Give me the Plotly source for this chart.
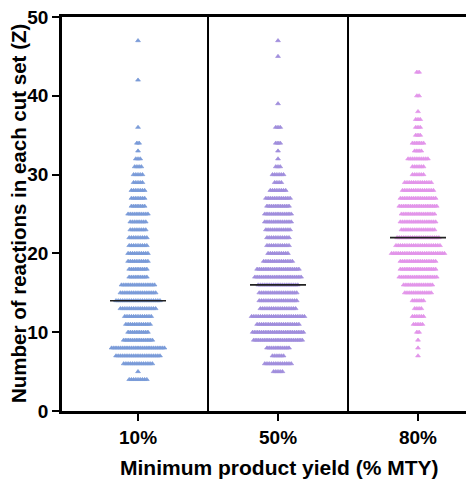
import numpy as np
import plotly.graph_objects as go

# ---- data ----
categories = ["10%", "50%", "80%"]

# value (number of reactions Z) -> count of cut sets
z_10 = [4, 5, 6, 7, 8, 9, 10, 11, 12, 13, 14, 15, 16, 17, 18, 19, 20, 21, 22, 23, 24,
        25, 26, 27, 28, 29, 30, 31, 32, 33, 34, 36, 42, 47]
n_10 = [9, 1, 14, 21, 25, 14, 10, 12, 13, 17, 21, 17, 16, 9, 9, 10, 10, 9, 9, 8, 8,
        10, 7, 7, 7, 5, 5, 4, 3, 1, 2, 1, 1, 1]

z_50 = [5, 6, 7, 8, 9, 10, 11, 12, 13, 14, 15, 16, 17, 18, 19, 20, 21, 22, 23, 24,
        25, 26, 27, 28, 29, 30, 31, 32, 33, 34, 36, 39, 45, 47]
n_50 = [5, 13, 6, 11, 23, 24, 20, 25, 17, 18, 18, 19, 22, 20, 14, 10, 11, 11, 12, 13,
        13, 11, 12, 8, 4, 6, 3, 1, 1, 3, 3, 1, 1, 1]

z_80 = [7, 8, 9, 10, 11, 12, 13, 14, 15, 16, 17, 18, 19, 20, 21, 22, 23, 24, 25, 26,
        27, 28, 29, 30, 31, 32, 33, 34, 35, 36, 37, 38, 40, 43]
n_80 = [1, 1, 1, 2, 5, 6, 4, 6, 13, 14, 18, 17, 17, 25, 21, 20, 16, 17, 16, 18,
        17, 15, 13, 6, 6, 10, 4, 6, 3, 3, 3, 1, 2, 2]

medians = [14, 16, 22]
colors = ["#7a9bd8", "#a08edc", "#e295ea"]

y_ticks = [0, 10, 20, 30, 40, 50]

# ---- build swarm ----
spacing = 2.2 / 140.0  # x-units between neighbouring points

fig = go.Figure()
groups = [(z_10, n_10), (z_50, n_50), (z_80, n_80)]
for gi, (zs, ns) in enumerate(groups):
    xs, ys = [], []
    for z, n in zip(zs, ns):
        for i in range(n):
            xs.append(gi + (i - (n - 1) / 2.0) * spacing)
            ys.append(z)
    fig.add_trace(go.Scatter(
        x=xs, y=ys, mode="markers",
        marker=dict(symbol="triangle-up", size=4.2, color=colors[gi],
                    line=dict(width=0.7, color=colors[gi])),
        showlegend=False, hoverinfo="skip"))

for gi, m in enumerate(medians):
    fig.add_trace(go.Scatter(
        x=[gi - 0.2, gi + 0.2], y=[m, m], mode="lines",
        line=dict(color="#222222", width=1.6), showlegend=False, hoverinfo="skip"))

for xd in [0.5, 1.5]:
    fig.add_shape(type="line", x0=xd, x1=xd, xref="x", y0=0, y1=1, yref="paper",
                  line=dict(color="black", width=2))

font_fam = "Arial, Liberation Sans, sans-serif"

# the page body adds an 8px offset, so margins are shifted accordingly
fig.update_layout(
    width=474, height=482,
    margin=dict(l=54, r=8, t=9, b=79, autoexpand=False),
    paper_bgcolor="white", plot_bgcolor="white",
    font=dict(family=font_fam, color="black"),
    xaxis=dict(
        range=[-0.543, 2.4], tickmode="array", tickvals=[0, 1, 2], ticktext=categories,
        showgrid=False, zeroline=False, automargin=False,
        showline=True, linecolor="black", linewidth=2.5, mirror=True,
        ticks="outside", ticklen=7, tickwidth=2, tickcolor="black",
        ticklabeloverflow="allow",
        tickfont=dict(size=19, weight="bold", family=font_fam),
    ),
    yaxis=dict(
        range=[0, 50], tickvals=y_ticks, automargin=False,
        showgrid=False, zeroline=False,
        showline=True, linecolor="black", linewidth=2.5,
        ticks="outside", ticklen=7, tickwidth=2, tickcolor="black",
        ticklabeloverflow="allow",
        tickfont=dict(size=19, weight="bold", family=font_fam),
    ),
    annotations=[
        dict(text="Number of reactions in each cut set (Z)", xref="paper", yref="paper",
             x=(18 - 62) / 412, y=0.5, xanchor="center", yanchor="middle",
             textangle=-90, showarrow=False,
             font=dict(size=20.5, weight="bold", family=font_fam)),
        dict(text="Minimum product yield (% MTY)", xref="paper", yref="paper",
             x=(279 - 62) / 412, y=(411 - 467) / 394, xanchor="center", yanchor="middle",
             showarrow=False,
             font=dict(size=21, weight="bold", family=font_fam)),
    ],
)

fig.write_html("out.html")
